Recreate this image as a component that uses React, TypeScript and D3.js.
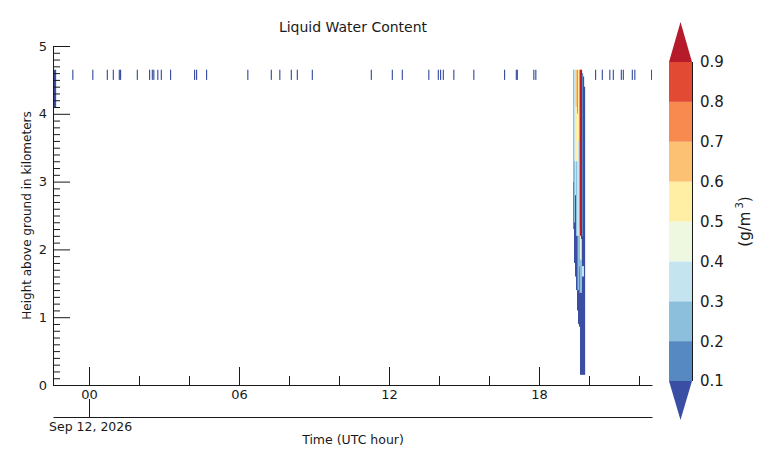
import React, { useEffect, useRef } from "react";
import * as d3 from "d3";

const W = 773;
const H = 467;

// contour levels (g/m^3)
const levels = [0.1, 0.2, 0.3, 0.4, 0.5, 0.6, 0.7, 0.8, 0.9];
const levelLabels = ["0.1", "0.2", "0.3", "0.4", "0.5", "0.6", "0.7", "0.8", "0.9"];

// axes
const timeDomain = [-1.44, 22.52]; // UTC hours
const heightDomain = [0, 5]; // km
const yMajorTicks = [0, 1, 2, 3, 4, 5];
const xMajorTicks = [0, 6, 12, 18];
const xMajorLabels = ["00", "06", "12", "18"];
const xMinorTicks = [2, 4, 8, 10, 14, 16, 20, 22];

// sparse single-sample returns near the top of the profile
const sparseTimes = [
  -0.67, 0.13, 0.71, 0.95, 1.19, 1.24, 1.91, 2.4, 2.51, 2.57, 2.73, 2.87, 3.24,
  4.2, 4.28, 4.68, 6.33, 7.27, 7.61, 8.07, 8.31, 8.91, 11.27, 12.11, 12.51,
  13.57, 13.95, 14.04, 14.15, 14.57, 15.37, 16.6, 17.07, 17.11, 17.77, 17.85,
  20.24, 20.51, 20.81, 20.95, 21.27, 21.35, 21.71, 21.81, 22.48,
];
const sparseDuration = 0.04;
const sparseLayer = [4.5, 4.65];
const sparseValue = 0.09;

// column at the very start of the record
const edgeColumnTimes = [-1.44, -1.32];
const edgeColumnLayer = [4.1, 4.65];
const edgeColumnValue = 0.08;

// main event: time columns and profile segments [bottom km, top km, value]
const eventTimes = [19.36, 19.4, 19.44, 19.48, 19.52, 19.56, 19.6, 19.64, 19.68, 19.72, 19.76, 19.8];
const eventDuration = 0.04;
const eventC0 = [[3.0, 4.65, 0.25], [2.3, 3.0, 0.18]];
const eventC1 = [[3.3, 4.65, 0.35], [2.4, 3.3, 0.25], [1.8, 2.4, 0.08]];
const eventC2 = [[4.1, 4.65, 0.3], [3.3, 4.1, 0.55], [2.8, 3.3, 0.3], [1.6, 2.8, 0.08]];
const eventC3 = [[4.1, 4.65, 0.65], [3.3, 4.1, 0.5], [2.2, 3.3, 0.28], [1.4, 2.2, 0.08]];
const eventC4 = [[4.0, 4.65, 0.72], [3.3, 4.0, 0.45], [2.2, 3.3, 0.3], [1.4, 2.2, 0.15], [1.1, 1.4, 0.08]];
const eventC5 = [[3.6, 4.65, 0.55], [2.2, 3.6, 0.32], [1.4, 2.2, 0.25], [0.9, 1.4, 0.08]];
const eventC6 = [[2.3, 4.65, 0.75], [1.75, 2.3, 0.25], [1.36, 1.75, 0.12], [0.86, 1.36, 0.08]];
const eventC7 = [[2.2, 4.65, 0.95], [1.85, 2.2, 0.4], [1.36, 1.85, 0.2], [0.15, 1.36, 0.08]];
const eventC8 = [[2.15, 4.65, 0.95], [1.85, 2.15, 0.6], [1.36, 1.85, 0.25], [0.15, 1.36, 0.08]];
const eventC9 = [[2.2, 4.6, 0.15], [1.75, 2.2, 0.08], [1.6, 1.75, 0.3], [0.15, 1.6, 0.08]];
const eventC10 = [[1.75, 4.55, 0.08], [1.6, 1.75, 0.35], [0.15, 1.6, 0.08]];
const eventC11 = [[0.15, 4.4, 0.08]];
const eventProfiles = [
  eventC0, eventC1, eventC2, eventC3, eventC4, eventC5,
  eventC6, eventC7, eventC8, eventC9, eventC10, eventC11,
];

// colours: under, 8 bands, over
const bandColors = [
  "#3a4fa3", "#5689c1", "#8bbfdc", "#c4e4ef", "#eef7e0",
  "#feefa5", "#fdc173", "#f8894f", "#e34a33", "#b51b2a",
];

const FONT = "DejaVu Sans, sans-serif";
const INK = "#1a1a1a";

export default function App() {
  const yAxisRef = useRef<SVGGElement>(null);
  const xAxisRef = useRef<SVGGElement>(null);
  const dateAxisRef = useRef<SVGGElement>(null);

  const plot = { left: 53, right: 652, top: 46, bottom: 385 };
  const x = d3.scaleLinear().domain(timeDomain).range([plot.left, plot.right]);
  const y = d3.scaleLinear().domain(heightDomain).range([plot.bottom, plot.top]);
  const color = d3.scaleThreshold<number, string>().domain(levels).range(bandColors);
  const cb = d3.scaleLinear().domain([levels[0], levels[levels.length - 1]]).range([381, 62]);
  const cbLeft = 669;
  const cbRight = 692;

  useEffect(() => {
    const style = (g: any) => {
      g.attr("font-family", FONT).attr("font-size", 13);
      g.selectAll("line").attr("stroke", INK);
      g.selectAll("path").attr("stroke", INK);
      g.selectAll("text").attr("fill", INK);
    };
    // y axis
    const gy = d3.select(yAxisRef.current);
    gy.selectAll("*").remove();
    const yMinor = d3.range(1, 50).filter((i) => i % 10 !== 0).map((i) => i / 10);
    gy.append("g")
      .call(d3.axisLeft(y).tickValues(yMinor).tickSize(-7).tickSizeOuter(0).tickFormat(() => ""))
      .call((g: any) => g.select(".domain").remove())
      .call(style);
    gy.append("g")
      .call(d3.axisLeft(y).tickValues(yMajorTicks).tickSize(-17).tickSizeOuter(0).tickPadding(6).tickFormat(d3.format("d")))
      .call(style);

    // x axis
    const gx = d3.select(xAxisRef.current);
    gx.selectAll("*").remove();
    gx.append("g")
      .call(d3.axisBottom(x).tickValues(xMinorTicks).tickSize(-9).tickSizeOuter(0).tickFormat(() => ""))
      .call((g: any) => g.select(".domain").remove())
      .call(style);
    gx.append("g")
      .call(
        d3.axisBottom(x).tickValues(xMajorTicks).tickSize(-18).tickSizeOuter(0).tickPadding(5)
          .tickFormat((d: any) => xMajorLabels[xMajorTicks.indexOf(+d)])
      )
      .call(style);

    // date axis
    const gd = d3.select(dateAxisRef.current);
    gd.selectAll("*").remove();
    gd.append("g")
      .call(d3.axisBottom(x).tickValues([0]).tickSize(-18).tickSizeOuter(0).tickFormat(() => ""))
      .call(style);
  }, []);

  const cells: { key: string; x: number; y: number; w: number; h: number; fill: string }[] = [];
  sparseTimes.forEach((t, i) => {
    cells.push({
      key: "s" + i,
      x: x(t),
      w: x(t + sparseDuration) - x(t),
      y: y(sparseLayer[1]),
      h: y(sparseLayer[0]) - y(sparseLayer[1]),
      fill: color(sparseValue),
    });
  });
  cells.push({
    key: "edge",
    x: x(edgeColumnTimes[0]),
    w: x(edgeColumnTimes[1]) - x(edgeColumnTimes[0]),
    y: y(edgeColumnLayer[1]),
    h: y(edgeColumnLayer[0]) - y(edgeColumnLayer[1]),
    fill: color(edgeColumnValue),
  });
  eventTimes.forEach((t, i) => {
    eventProfiles[i].forEach((seg, j) => {
      cells.push({
        key: `e${i}-${j}`,
        x: x(t),
        w: x(t + eventDuration) - x(t),
        y: y(seg[1]),
        h: y(seg[0]) - y(seg[1]),
        fill: color(seg[2]),
      });
    });
  });

  const cbMid = (cbLeft + cbRight) / 2;
  const topTri = `M${cbLeft},${cb(0.9)}L${cbMid},22L${cbRight},${cb(0.9)}Z`;
  const botTri = `M${cbLeft},${cb(0.1)}L${cbMid},420L${cbRight},${cb(0.1)}Z`;

  return (
    <svg width={W} height={H} style={{ position: "absolute", left: 0, top: 0, background: "#fff" }}>
      <rect width={W} height={H} fill="#fff" />
      <defs>
        <clipPath id="plotClip">
          <rect x={plot.left} y={plot.top} width={plot.right - plot.left} height={plot.bottom - plot.top} />
        </clipPath>
      </defs>
      <g clipPath="url(#plotClip)">
        {cells.map((c) => (
          <rect key={c.key} x={c.x} y={c.y} width={c.w + 0.15} height={c.h} fill={c.fill} />
        ))}
      </g>

      <g ref={yAxisRef} transform={`translate(${plot.left},0)`} />
      <g ref={xAxisRef} transform={`translate(0,${plot.bottom})`} />
      <g ref={dateAxisRef} transform={`translate(0,417)`} />

      <text x={353} y={32} textAnchor="middle" fontFamily={FONT} fontSize={14} fill={INK}>
        Liquid Water Content
      </text>
      <text
        transform={`translate(31,${(plot.top + plot.bottom) / 2}) rotate(-90)`}
        textAnchor="middle"
        fontFamily={FONT}
        fontSize={12}
        fill={INK}
      >
        Height above ground in kilometers
      </text>
      <text x={49} y={431} fontFamily={FONT} fontSize={12.5} fill={INK}>
        Sep 12, 2026
      </text>
      <text x={353} y={444} textAnchor="middle" fontFamily={FONT} fontSize={12.5} fill={INK}>
        Time (UTC hour)
      </text>

      {/* colorbar */}
      <g>
        {levels.slice(0, -1).map((lv, i) => (
          <rect
            key={lv}
            x={cbLeft}
            y={cb(levels[i + 1])}
            width={cbRight - cbLeft}
            height={cb(lv) - cb(levels[i + 1])}
            fill={bandColors[i + 1]}
          />
        ))}
        <path d={topTri} fill={bandColors[bandColors.length - 1]} />
        <path d={botTri} fill={bandColors[0]} />
        <line x1={cbRight + 0.5} x2={cbRight + 0.5} y1={cb(0.9)} y2={cb(0.1)} stroke={INK} />
        {levels.map((lv, i) => (
          <text
            key={lv}
            x={700}
            y={cb(lv)}
            dy="0.36em"
            fontFamily={FONT}
            fontSize={15}
            fill={INK}
          >
            {levelLabels[i]}
          </text>
        ))}
        <text
          transform={`translate(750,${cb(0.5)}) rotate(-90)`}
          textAnchor="middle"
          fontFamily={FONT}
          fontSize={15}
          fill={INK}
        >
          (g/m
          <tspan fontSize={10} dy={-7}> 3</tspan>
          <tspan dy={7}>)</tspan>
        </text>
      </g>
    </svg>
  );
}
